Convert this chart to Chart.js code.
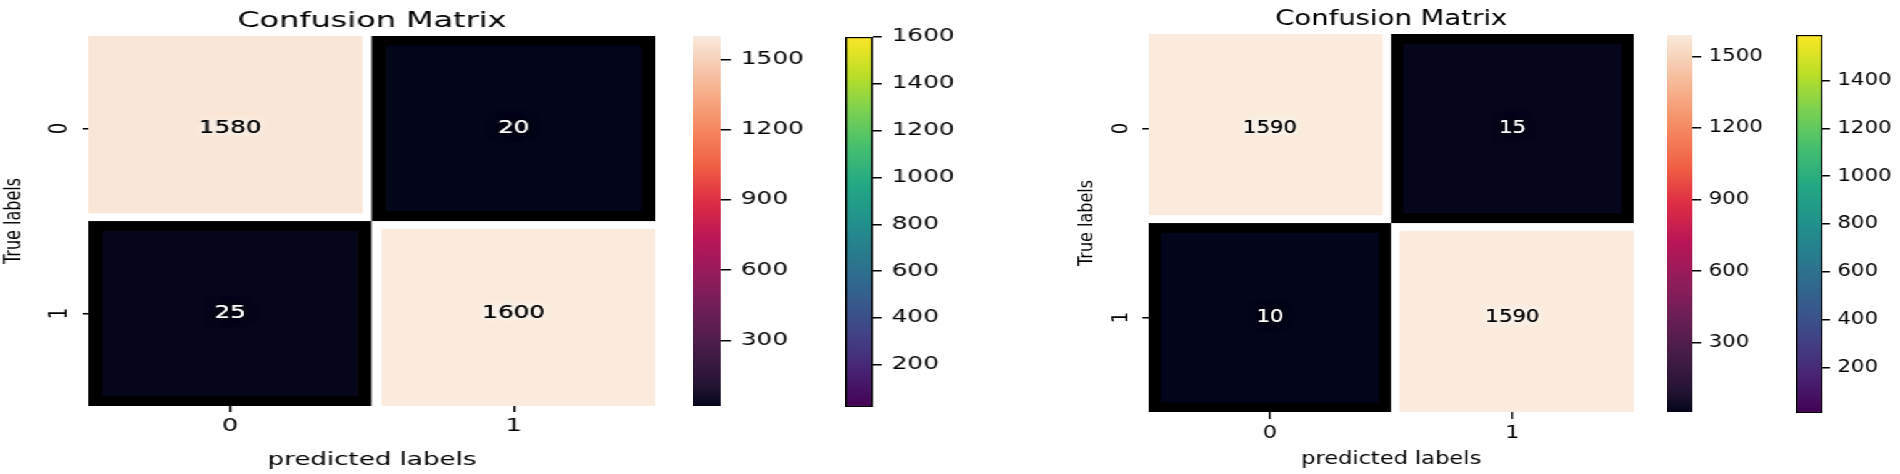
<!DOCTYPE html>
<html>
<head>
<meta charset="utf-8">
<title>Confusion matrices</title>
<script src="https://cdn.jsdelivr.net/npm/chart.js@4.4.1/dist/chart.umd.min.js"></script>
<style>
  html, body { margin: 0; padding: 0; background: #fff; overflow: hidden; }
  body { width: 1900px; height: 474px; position: relative; }
  .panel { position: absolute; top: 0; height: 474px; transform-origin: 0 0; }
  .panel canvas { position: absolute; top: 0; }
</style>
</head>
<body>
<div class="panel" id="panel-left">
  <canvas id="heatLeft"></canvas>
  <canvas id="rocketLeft"></canvas>
  <canvas id="viridisLeft"></canvas>
</div>
<div class="panel" id="panel-right">
  <canvas id="heatRight"></canvas>
  <canvas id="rocketRight"></canvas>
  <canvas id="viridisRight"></canvas>
</div>
<script>
// Data
const xLabels = ['0', '1'];
const yLabels = ['0', '1'];
const cmLeft = [[1580, 20], [25, 1600]];
const cmRight = [[1590, 15], [10, 1590]];

// colorbar tick labels
const rocketTicksLeft = [300, 600, 900, 1200, 1500];
const viridisTicksLeft = [200, 400, 600, 800, 1000, 1200, 1400, 1600];
const rocketTicksRight = [300, 600, 900, 1200, 1500];
const viridisTicksRight = [200, 400, 600, 800, 1000, 1200, 1400];

// Colormaps (position, colour)
const ROCKET = [
    [0.00, '#03051a'], [0.05, '#221331'], [0.15, '#451c47'], [0.25, '#6a1f56'],
    [0.35, '#921c5b'], [0.45, '#b91657'], [0.55, '#dd2c45'], [0.65, '#f06043'],
    [0.75, '#f58860'], [0.85, '#f6b08b'], [0.95, '#f7d6c0'], [1.00, '#faebdd']
];
const VIRIDIS = [
    [0.0, '#440154'], [0.1, '#482475'], [0.2, '#414487'], [0.3, '#355f8d'],
    [0.4, '#2a788e'], [0.5, '#21918c'], [0.6, '#22a884'], [0.7, '#44bf70'],
    [0.8, '#7ad151'], [0.9, '#bddf26'], [1.0, '#fde725']
];

Chart.defaults.font.family = "'DejaVu Sans', sans-serif";
Chart.defaults.color = '#000';
Chart.defaults.animation = false;

function hexToRgb(h) {
    return [1, 3, 5].map(i => parseInt(h.substr(i, 2), 16));
}

function sampleMap(stops, t) {
    t = Math.max(0, Math.min(1, t));
    for (let i = 1; i < stops.length; i++) {
        if (t <= stops[i][0]) {
            const [p0, c0] = stops[i - 1];
            const [p1, c1] = stops[i];
            const f = (t - p0) / (p1 - p0);
            const a = hexToRgb(c0), b = hexToRgb(c1);
            const rgb = a.map((v, k) => Math.round(v + (b[k] - v) * f));
            return `rgb(${rgb.join(',')})`;
        }
    }
    return stops[stops.length - 1][1];
}

function setupPanel(id, left, stretch, width) {
    const el = document.getElementById(id);
    el.style.left = left + 'px';
    el.style.width = width + 'px';
    el.style.transform = `scaleX(${stretch})`;
}

function placeCanvas(id, x, w) {
    const c = document.getElementById(id);
    c.width = w;
    c.height = 474;
    c.style.left = x + 'px';
    c.style.width = w + 'px';
    c.style.height = '474px';
    return c;
}

// Heatmap drawn as floating bars, one dataset per row
function makeHeatmap(canvasId, cm, cfg) {
    const flat = cm.flat();
    const vmin = Math.min(...flat), vmax = Math.max(...flat);
    const norm = v => (v - vmin) / (vmax - vmin);
    const canvas = placeCanvas(canvasId, 0, cfg.width);

    const cellText = {
        id: 'cellText',
        afterDatasetsDraw(chart) {
            const ctx = chart.ctx;
            chart.data.datasets.forEach((ds, r) => {
                chart.getDatasetMeta(r).data.forEach((bar, c) => {
                    const v = cm[r][c];
                    const dark = norm(v) < 0.5;
                    const p = bar.getCenterPoint();
                    ctx.save();
                    ctx.font = "17px 'DejaVu Sans'";
                    ctx.textAlign = 'center';
                    ctx.textBaseline = 'middle';
                    ctx.shadowColor = dark ? '#000' : '#fff';
                    ctx.shadowBlur = 8;
                    ctx.fillStyle = dark ? '#fff' : '#000';
                    ctx.fillText(String(v), p.x, p.y);
                    ctx.fillText(String(v), p.x, p.y);
                    ctx.restore();
                });
            });
        }
    };

    return new Chart(canvas, {
        type: 'bar',
        data: {
            labels: xLabels,
            datasets: cm.map((row, r) => ({
                label: yLabels[r],
                data: row.map(() => [r, r + 1]),
                grouped: false,
                barPercentage: 1,
                categoryPercentage: 1,
                borderSkipped: false,
                backgroundColor: row.map(v => sampleMap(ROCKET, norm(v))),
                borderColor: row.map(v => norm(v) < 0.5 ? '#000' : '#fff'),
                borderWidth: (ctx) => {
                    const c = ctx.dataIndex;
                    if (norm(row[c]) < 0.5) return 10;
                    return {
                        left: c > 0 ? 7 : 0,
                        right: c < row.length - 1 ? 7 : 0,
                        top: r > 0 ? 8 : 0,
                        bottom: r < cm.length - 1 ? 8 : 0
                    };
                }
            }))
        },
        options: {
            responsive: false,
            layout: { padding: { left: 0, right: cfg.padRight, top: 0, bottom: 0 } },
            plugins: {
                legend: { display: false },
                tooltip: { enabled: false },
                title: {
                    display: true,
                    text: 'Confusion Matrix',
                    fullSize: false,
                    color: '#000',
                    font: { size: 22, weight: 'normal' },
                    padding: cfg.titlePad
                }
            },
            scales: {
                x: {
                    offset: true,
                    grid: { offset: false, drawOnChartArea: false, tickLength: cfg.xtl, tickColor: '#000', lineWidth: 1.5 },
                    border: { display: false },
                    ticks: { padding: cfg.xtickPad, font: { size: 18 }, color: '#000', maxRotation: 0 },
                    title: { display: true, text: 'predicted labels', font: { size: 18 }, color: '#000', padding: { top: 0, bottom: cfg.xTitlePadB } },
                    afterFit: s => { s.height = cfg.xAxisH; }
                },
                y: {
                    type: 'linear',
                    min: 0,
                    max: yLabels.length,
                    reverse: true,
                    afterBuildTicks: s => { s.ticks = yLabels.map((l, i) => ({ value: i + 0.5 })); },
                    grid: { drawOnChartArea: false, tickLength: cfg.ytl, tickColor: '#000', lineWidth: 1.5 },
                    border: { display: false },
                    ticks: {
                        autoSkip: false,
                        callback: v => yLabels[Math.floor(v)],
                        minRotation: 90,
                        maxRotation: 90,
                        crossAlign: 'center',
                        padding: cfg.ytickPad,
                        font: { size: 18 },
                        color: '#000'
                    },
                    title: { display: true, text: 'True labels', font: { size: 16 }, color: '#000', padding: { top: 0, bottom: 0 } },
                    afterFit: s => { s.width = cfg.yAxisW; }
                }
            }
        },
        plugins: [cellText]
    });
}

// Colour bar: a single floating bar filled with a gradient
function makeColorbar(canvasId, cm, stops, tickValues, cfg) {
    const flat = cm.flat();
    const vmin = Math.min(...flat), vmax = Math.max(...flat);
    const canvas = placeCanvas(canvasId, cfg.x, cfg.barW + cfg.axisW);

    return new Chart(canvas, {
        type: 'bar',
        data: {
            labels: [''],
            datasets: [{
                data: [[vmin, vmax]],
                barPercentage: 1,
                categoryPercentage: 1,
                borderSkipped: false,
                borderWidth: cfg.outline ? 1.5 : 0,
                borderColor: '#000',
                backgroundColor: (ctx) => {
                    const area = ctx.chart.chartArea;
                    if (!area) return null;
                    const g = ctx.chart.ctx.createLinearGradient(0, area.bottom, 0, area.top);
                    stops.forEach(([p, col]) => g.addColorStop(p, col));
                    return g;
                }
            }]
        },
        options: {
            responsive: false,
            layout: { padding: { left: 0, right: 0, top: cfg.top, bottom: 474 - cfg.bottom } },
            plugins: { legend: { display: false }, tooltip: { enabled: false } },
            scales: {
                x: { display: false },
                y: {
                    position: 'right',
                    min: vmin,
                    max: vmax,
                    afterBuildTicks: s => { s.ticks = tickValues.map(v => ({ value: v })); },
                    grid: { drawOnChartArea: false, tickLength: cfg.tl, tickColor: '#000', lineWidth: 1.5 },
                    border: { display: false },
                    ticks: { autoSkip: false, padding: cfg.pad, font: { size: 17 }, color: '#000', callback: v => String(v) },
                    afterFit: s => { s.width = cfg.axisW; }
                }
            }
        }
    });
}

// Left figure
setupPanel('panel-left', 0, 1.45, 700);
makeHeatmap('heatLeft', cmLeft, {
    width: 456, padRight: 4, yAxisW: 61, xAxisH: 68,
    titlePad: { top: 7.8, bottom: 1.8 },
    xtl: 6, xtickPad: 4, xTitlePadB: 3, ytl: 4, ytickPad: 10
});
makeColorbar('rocketLeft', cmLeft, ROCKET, rocketTicksLeft,
    { x: 478, barW: 19, axisW: 60, top: 36, bottom: 406, tl: 7, pad: 7, outline: false });
makeColorbar('viridisLeft', cmLeft, VIRIDIS, viridisTicksLeft,
    { x: 583, barW: 19, axisW: 60, top: 37, bottom: 407, tl: 6, pad: 7, outline: true });

// Right figure
setupPanel('panel-right', 1075, 1.25, 660);
makeHeatmap('heatRight', cmRight, {
    width: 451, padRight: 4, yAxisW: 59, xAxisH: 62,
    titlePad: { top: 6.3, bottom: 1.3 },
    xtl: 7, xtickPad: 4, xTitlePadB: 4, ytl: 5, ytickPad: 11
});
makeColorbar('rocketRight', cmRight, ROCKET, rocketTicksRight,
    { x: 474, barW: 20, axisW: 58, top: 35, bottom: 412, tl: 7, pad: 6, outline: false });
makeColorbar('viridisRight', cmRight, VIRIDIS, viridisTicksRight,
    { x: 577, barW: 21, axisW: 58, top: 35, bottom: 413, tl: 6, pad: 6, outline: true });
</script>
</body>
</html>
